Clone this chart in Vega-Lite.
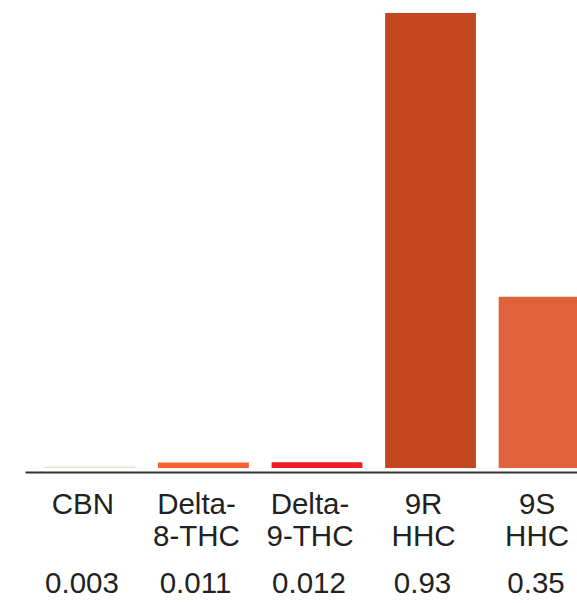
{
  "$schema": "https://vega.github.io/schema/vega-lite/v6.json",
  "autosize": "none",
  "width": 577,
  "height": 455,
  "padding": {"left": 0, "top": 13, "right": 0, "bottom": 135},
  "background": "white",
  "config": {"view": {"stroke": null}, "font": "Liberation Sans"},
  "data": {
    "values": [
      {"name": "CBN", "value": 0.003},
      {"name": "Delta-8-THC", "value": 0.011},
      {"name": "Delta-9-THC", "value": 0.012},
      {"name": "9R HHC", "value": 0.93},
      {"name": "9S HHC", "value": 0.35}
    ]
  },
  "encoding": {
    "x": {
      "field": "name",
      "type": "nominal",
      "sort": null,
      "scale": {"range": [25, 609], "paddingInner": 0.2, "paddingOuter": 0.172},
      "axis": {
        "title": null,
        "orient": "bottom",
        "offset": 4,
        "domainColor": "#333333",
        "domainWidth": 2,
        "ticks": false,
        "labelAngle": 0,
        "labelFontSize": 29.5,
        "labelColor": "#222222",
        "labelPadding": 18,
        "labelLineHeight": 32,
        "labelOffset": -7,
        "labelLimit": 0,
        "labelOverlap": false,
        "labelExpr": "indexof(datum.label, 'Delta-') == 0 ? ['Delta-', slice(datum.label, 6)] : split(datum.label, ' ')"
      }
    }
  },
  "layer": [
    {
      "mark": {"type": "bar", "clip": true},
      "encoding": {
        "y": {
          "field": "value",
          "type": "quantitative",
          "scale": {"domain": [0, 0.93], "nice": false},
          "axis": null
        },
        "color": {
          "field": "name",
          "type": "nominal",
          "scale": {
            "domain": ["CBN", "Delta-8-THC", "Delta-9-THC", "9R HHC", "9S HHC"],
            "range": ["#dfe7d3", "#f5612f", "#ee1c25", "#c2471f", "#de633a"]
          },
          "legend": null
        }
      }
    },
    {
      "mark": {
        "type": "text",
        "baseline": "alphabetic",
        "dy": 125,
        "dx": -8,
        "fontSize": 29.5,
        "color": "#222222"
      },
      "encoding": {
        "y": {"datum": 0},
        "text": {"field": "value", "type": "nominal"}
      }
    }
  ]
}
